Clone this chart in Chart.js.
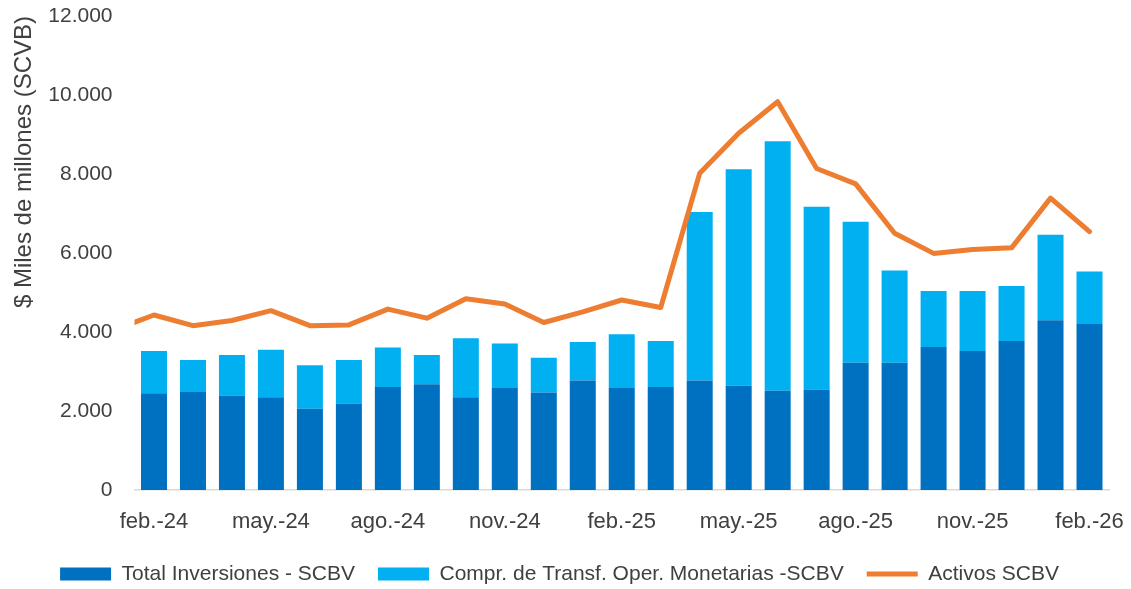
<!DOCTYPE html>
<html>
<head>
<meta charset="utf-8">
<script src="https://cdn.jsdelivr.net/npm/chart.js@4/dist/chart.umd.min.js"></script>
<style>
  html, body { margin: 0; padding: 0; background: #fff; }
  #wrap { width: 1131px; height: 589px; }
</style>
</head>
<body>
<div id="wrap"><canvas id="chart"></canvas></div>
<script>
// meses (ene.-24 solo sirve para el tramo inicial de la línea, queda fuera del eje)
const meses = [
  'ene.-24', 'feb.-24', 'mar.-24', 'abr.-24', 'may.-24', 'jun.-24', 'jul.-24',
  'ago.-24', 'sept.-24', 'oct.-24', 'nov.-24', 'dic.-24', 'ene.-25', 'feb.-25',
  'mar.-25', 'abr.-25', 'may.-25', 'jun.-25', 'jul.-25', 'ago.-25', 'sept.-25',
  'oct.-25', 'nov.-25', 'dic.-25', 'ene.-26', 'feb.-26'
];

// $ miles de millones
const totalInversiones = [
  null, 2450, 2480, 2390, 2350, 2060, 2190, 2610, 2680, 2350, 2580, 2470, 2770,
  2580, 2610, 2770, 2640, 2510, 2545, 3220, 3220, 3620, 3520, 3770, 4300, 4200
];
const comprTransf = [
  null, 1070, 810, 1030, 1200, 1100, 1100, 1000, 740, 1490, 1130, 880, 980,
  1360, 1160, 4270, 5480, 6320, 4625, 3570, 2340, 1420, 1520, 1395, 2160, 1330
];
const activos = [
  4060, 4430, 4160, 4290, 4540, 4160, 4180, 4580, 4350, 4840, 4710, 4240, 4510,
  4810, 4620, 8020, 9030, 9830, 8140, 7750, 6500, 5990, 6090, 6130, 7390, 6540
];

const yMax = 12000;
const yStep = 2000;

const font = 'Liberation Sans, Arial, sans-serif';
const txt = '#404040';

const miles = v => String(v).replace(/\B(?=(\d{3})+(?!\d))/g, '.');

new Chart(document.getElementById('chart'), {
  type: 'bar',
  data: {
    labels: meses,
    datasets: [
      {
        label: 'Total Inversiones - SCBV',
        data: totalInversiones,
        backgroundColor: '#0070C0',
        pointStyle: 'rect',
        order: 1
      },
      {
        label: 'Compr. de Transf. Oper. Monetarias -SCBV',
        data: comprTransf,
        backgroundColor: '#00B0F0',
        pointStyle: 'rect',
        order: 1
      },
      {
        type: 'line',
        label: 'Activos SCBV',
        data: activos,
        borderColor: '#ED7D31',
        backgroundColor: '#ED7D31',
        borderWidth: 5,
        borderCapStyle: 'round',
        borderJoinStyle: 'round',
        pointRadius: 0,
        pointStyle: 'line',
        tension: 0,
        order: 0
      }
    ]
  },
  options: {
    responsive: true,
    maintainAspectRatio: false,
    animation: false,
    layout: { padding: { left: 10, right: 22, top: 16, bottom: -5.5 } },
    datasets: {
      bar: { categoryPercentage: 1, barPercentage: 0.667 }
    },
    scales: {
      x: {
        stacked: true,
        min: 'feb.-24',
        grid: { display: false, drawTicks: false },
        border: { display: true, color: '#D9D9D9', width: 1.5 },
        ticks: {
          autoSkip: false,
          maxRotation: 0,
          padding: 19,
          color: txt,
          font: { family: font, size: 22 },
          callback: (val) => ((val - 1) % 3 === 0 ? meses[val] : '')
        },
        afterFit: s => {
          s.height = 50.5;
          s.paddingLeft = 0;
          s.paddingRight = 0;
        }
      },
      y: {
        stacked: true,
        min: 0,
        max: yMax,
        grid: { display: false, drawTicks: false },
        border: { display: false },
        ticks: {
          stepSize: yStep,
          padding: 22,
          color: txt,
          font: { family: font, size: 21 },
          callback: v => miles(v)
        },
        title: {
          display: true,
          text: '$ Miles de millones (SCVB)',
          align: 'end',
          color: txt,
          font: { family: font, size: 24 },
          padding: { top: 0, bottom: 0 }
        },
        afterFit: s => {
          s.width = 124.5;
          s.paddingTop = 0;
          s.paddingBottom = 0;
        }
      }
    },
    plugins: {
      tooltip: { enabled: false },
      legend: {
        position: 'bottom',
        labels: {
          usePointStyle: true,
          pointStyleWidth: 51,
          boxHeight: 13,
          padding: 23,
          color: txt,
          font: { family: font, size: 21 },
          sort: (a, b) => a.datasetIndex - b.datasetIndex
        }
      }
    }
  }
});
</script>
</body>
</html>
